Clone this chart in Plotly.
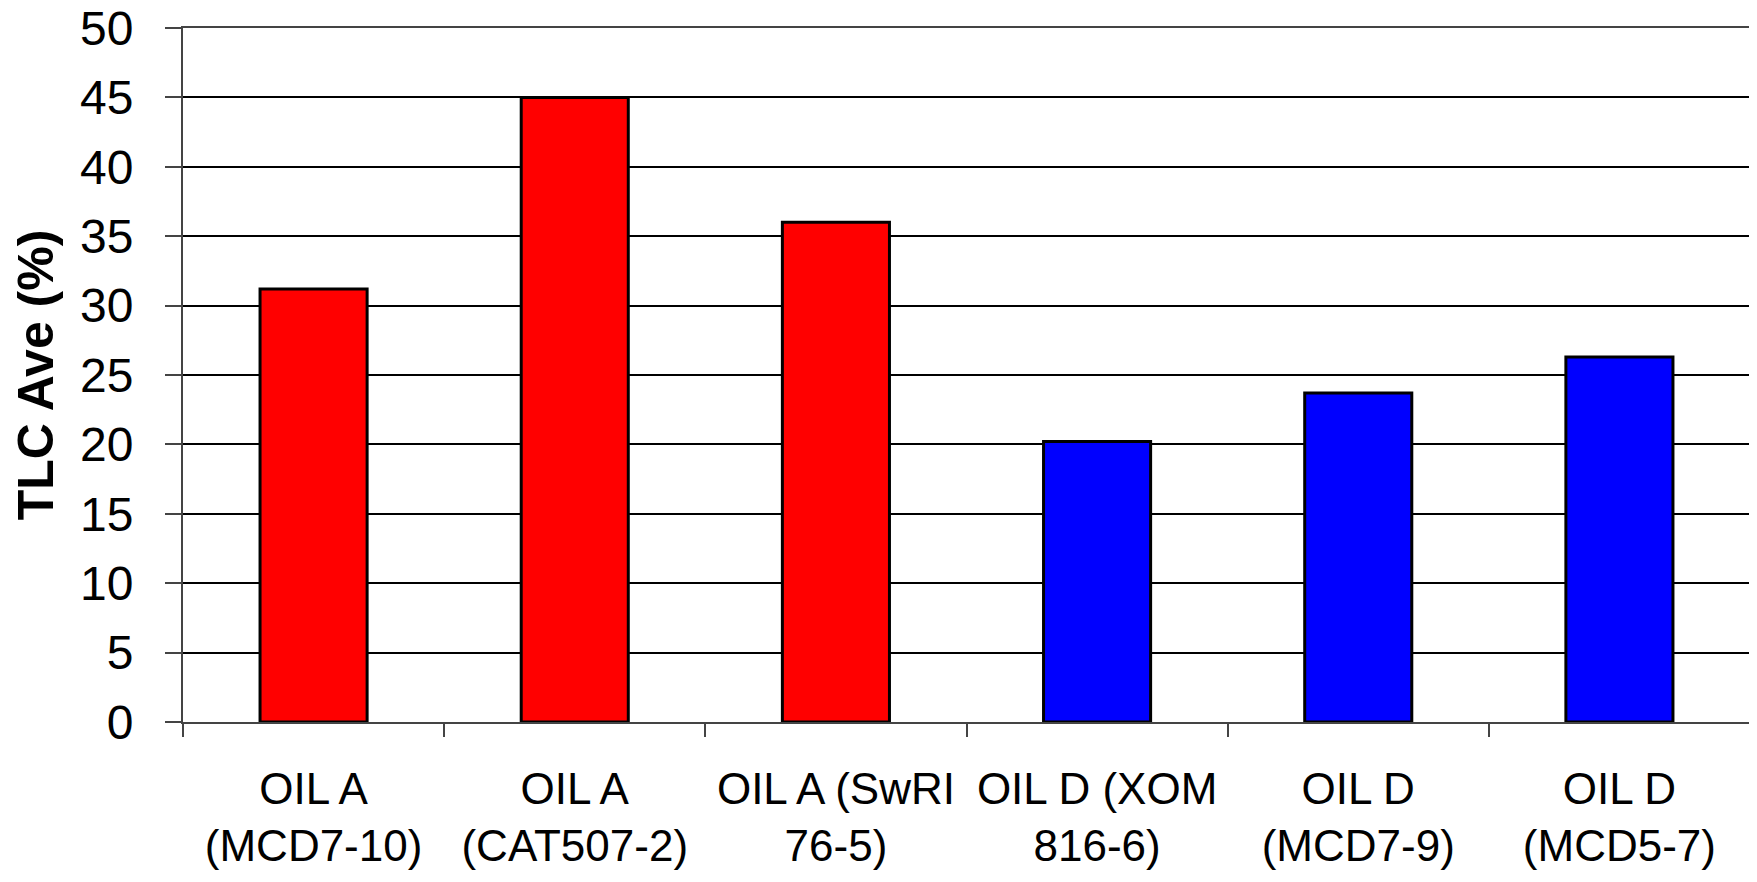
import plotly.graph_objects as go

categories = ["OIL A<br>(MCD7-10)", "OIL A<br>(CAT507-2)", "OIL A (SwRI<br>76-5)",
              "OIL D (XOM<br>816-6)", "OIL D<br>(MCD7-9)", "OIL D<br>(MCD5-7)"]
values = [31.2, 45.0, 36.0, 20.2, 23.7, 26.3]
bar_colors = ["#FF0000", "#FF0000", "#FF0000", "#0000FF", "#0000FF", "#0000FF"]
y_ticks = [0, 5, 10, 15, 20, 25, 30, 35, 40, 45, 50]
y_title = "TLC Ave (%)"

FONT = "Liberation Sans, Arial, sans-serif"

fig = go.Figure(go.Bar(
    x=categories, y=values,
    marker=dict(color=bar_colors, line=dict(color="#000000", width=3)),
    width=0.41,
))

# page body has an 8px default margin, so the figure is offset by 8px
fig.update_layout(
    width=1749, height=874,
    margin=dict(l=175, r=7, t=20, b=160),
    plot_bgcolor="white", paper_bgcolor="white",
    font=dict(family=FONT, color="black"),
    showlegend=False,
)
fig.update_xaxes(
    automargin=False, tickangle=0,
    showline=True, linecolor="#444444", linewidth=2, mirror=True,
    ticks="outside", tickson="boundaries", ticklen=13, tickwidth=1.5, tickcolor="#444444",
    tickfont=dict(size=44), showgrid=False, ticklabelstandoff=27,
)
fig.update_yaxes(
    automargin=False, range=[0, 50.0001], tickvals=y_ticks, ticklabeloverflow="allow",
    showline=True, linecolor="#444444", linewidth=2, mirror=True,
    ticks="outside", ticklen=16, tickwidth=1.5, tickcolor="#444444",
    tickfont=dict(size=48), ticklabelstandoff=22,
    showgrid=True, gridcolor="#000000", gridwidth=1.5, zeroline=False,
    title=dict(text="<b>" + y_title + "</b>", font=dict(size=50), standoff=22),
)
fig.write_html("out.html")
